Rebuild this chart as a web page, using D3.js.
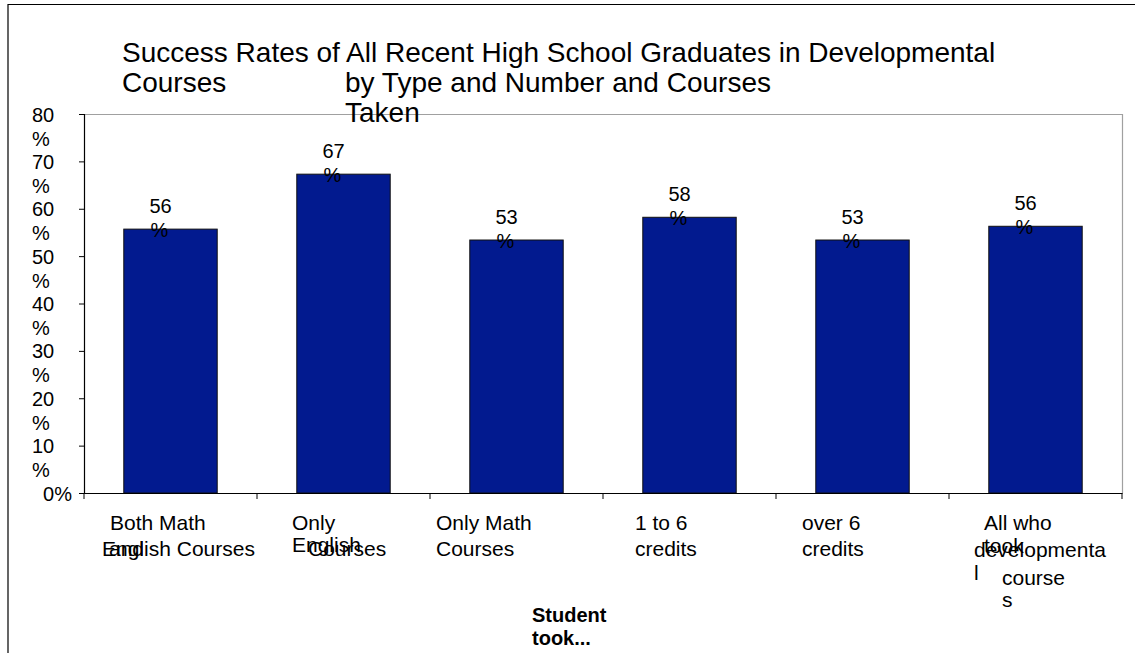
<!DOCTYPE html>
<html>
<head>
<meta charset="utf-8">
<script src="https://cdn.jsdelivr.net/npm/d3@7"></script>
<style>
  html, body { margin: 0; padding: 0; background: #fff; }
  svg { display: block; font-family: Arial, "Liberation Sans", sans-serif; }
</style>
</head>
<body>
<svg id="chart" width="1135" height="653"></svg>
<script>
// chart data
const categories = ["both", "english", "math", "1to6", "over6", "all"];
const values = [55.7, 67.3, 53.4, 58.2, 53.4, 56.3];
const valueLabels = ["56", "67", "53", "58", "53", "56"];
const yTicks = [0, 10, 20, 30, 40, 50, 60, 70, 80];
const xLabelLines = [
  ["Both Math", "and", "English Courses"],
  ["Only", "English", "Courses"],
  ["Only Math", "Courses"],
  ["1 to 6", "credits"],
  ["over 6", "credits"],
  ["All who", "took", "developmenta", "l", "course", "s"]
];
const titleLines = ["Success Rates of All Recent High School Graduates in Developmental", "Courses", "by Type and Number and Courses", "Taken"];
const axisTitleLines = ["Student", "took..."];

// where each wrapped label line lands (offset from band start, baseline y)
const xLabelLayout = [
  [[26, 530], [25, 556], [18, 556]],
  [[35, 530], [35, 552], [51, 556]],
  [[6, 530], [6, 556]],
  [[32, 530], [32, 556]],
  [[26, 530], [26, 556]],
  [[35, 530], [35, 553], [25, 557], [25, 580], [53, 585], [53, 607]]
];
const titleLayout = [[122, 62], [122, 92], [345, 92], [345, 122]];

const svg = d3.select("#chart");
const plot = { left: 84, right: 1122, top: 114, bottom: 493 };

// outer frame (open on the right and bottom, cut by the window)
svg.append("path")
  .attr("d", `M8,653 V4.5 H1135`)
  .attr("fill", "none")
  .attr("stroke", "#000")
  .attr("stroke-width", 1.2);

const x = d3.scaleBand().domain(categories).range([plot.left, plot.right]).paddingInner(0.46).paddingOuter(0.23);
const xb = d3.scaleBand().domain(categories).range([plot.left, plot.right]);
const y = d3.scaleLinear().domain([0, 80]).range([plot.bottom, plot.top]);

// plot area frame (top and right in gray)
svg.append("path")
  .attr("d", `M${plot.left},${plot.top + 0.5} H${plot.right + 0.5} V${plot.bottom}`)
  .attr("fill", "none")
  .attr("stroke", "#a0a0a0")
  .attr("stroke-width", 1.2);

// bars
svg.selectAll("rect.bar")
  .data(values)
  .join("rect")
  .attr("class", "bar")
  .attr("x", (d, i) => x(categories[i]))
  .attr("y", d => y(d))
  .attr("width", x.bandwidth())
  .attr("height", d => y(0) - y(d))
  .attr("fill", "#021a8f")
  .attr("stroke", "#111")
  .attr("stroke-width", 1);

// value labels, wrapped as "56" / "%"
const vl = svg.selectAll("g.vlabel")
  .data(values)
  .join("g")
  .attr("class", "vlabel")
  .style("font-size", "20px");
vl.append("text")
  .attr("x", (d, i) => xb(categories[i]) + xb.bandwidth() / 2 - 21)
  .attr("y", d => y(d) - 16)
  .text((d, i) => valueLabels[i]);
vl.append("text")
  .attr("x", (d, i) => xb(categories[i]) + xb.bandwidth() / 2 - 20)
  .attr("y", d => y(d) + 8)
  .text("%");

// y axis
const yAxis = svg.append("g")
  .attr("transform", `translate(${plot.left},0)`)
  .call(d3.axisLeft(y).tickValues(yTicks).tickSize(5).tickFormat(""));
yAxis.select(".domain").attr("stroke", "#000").attr("stroke-width", 1.2);
yAxis.selectAll(".tick line").attr("stroke", "#000");

const yl = svg.append("g").style("font-size", "20px").attr("fill", "#000");
yTicks.forEach(t => {
  if (t === 0) {
    yl.append("text").attr("x", 72).attr("y", y(t) + 7.5).attr("text-anchor", "end").text("0%");
  } else {
    yl.append("text").attr("x", 32).attr("y", y(t) + 7.5).text(t);
    yl.append("text").attr("x", 32).attr("y", y(t) + 31.5).text("%");
  }
});

// x axis with ticks at category boundaries
const xAxis = svg.append("g")
  .attr("transform", `translate(0,${plot.bottom})`)
  .call(d3.axisBottom(xb).tickSize(0).tickFormat(""));
xAxis.select(".domain").attr("stroke", "#000").attr("stroke-width", 1.2);
const bounds = categories.map(c => xb(c)).concat([plot.right]);
xAxis.selectAll("line.sep")
  .data(bounds)
  .join("line")
  .attr("class", "sep")
  .attr("x1", d => d).attr("x2", d => d)
  .attr("y1", 0).attr("y2", 6)
  .attr("stroke", "#000");

// category labels
const xl = svg.append("g").style("font-size", "21px");
xLabelLines.forEach((lines, i) => {
  lines.forEach((line, j) => {
    const [dx, by] = xLabelLayout[i][j];
    xl.append("text").attr("x", xb(categories[i]) + dx).attr("y", by).text(line);
  });
});

// title
const tl = svg.append("g").style("font-size", "28px");
titleLines.forEach((line, i) => {
  tl.append("text").attr("x", titleLayout[i][0]).attr("y", titleLayout[i][1]).text(line);
});

// axis title
const at = svg.append("g").style("font-size", "20px").style("font-weight", "bold");
axisTitleLines.forEach((line, i) => {
  at.append("text").attr("x", 532).attr("y", 622 + i * 23).text(line);
});
</script>
</body>
</html>
